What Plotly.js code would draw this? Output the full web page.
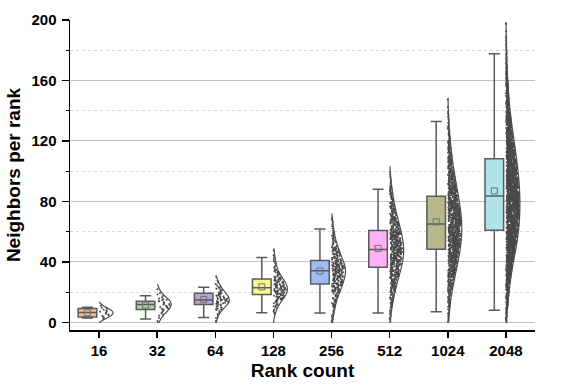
<!DOCTYPE html>
<html>
<head>
<meta charset="utf-8">
<script src="https://cdn.plot.ly/plotly-3.0.1.min.js"></script>
<style>html,body{margin:0;padding:0;background:#fff;}#chart{width:581px;height:388px;}</style>
</head>
<body>
<div id="chart"></div>
<script>
// Categories
var rankCounts = ['16', '32', '64', '128', '256', '512', '1024', '2048'];

// Box statistics
var q1 = [3.6, 8.5, 11.8, 18.4, 25.5, 36.5, 48.4, 61];
var medians = [6.6, 11.9, 14.8, 22.9, 34.2, 48.3, 65.1, 83.6];
var q3 = [9.3, 14, 19.3, 28.8, 40.9, 60.8, 83.5, 108.3];
var lowerWhisker = [3, 2.2, 3.3, 6.4, 6.2, 6.2, 7, 8.1];
var upperWhisker = [10, 17.6, 23.2, 43, 61.8, 88.1, 132.8, 177.7];
var means = [6.5, 11.5, 15.2, 23.5, 34, 49, 66.5, 87];

// Violin extent (max value reached by the half-violin outline)
var violinTop = [13.5, 24.8, 30.7, 48.7, 71.7, 103, 148, 198.5];

// Distribution of neighbors per rank: counts per bin, bins starting at 0
var binWidth = [2, 4, 4, 5, 10, 10, 10, 10];
var counts16 = [0, 3, 4, 5, 3, 1];
var counts32 = [2, 5, 10, 10, 4, 1];
var counts64 = [2, 4, 11, 19, 15, 8, 4, 1];
var counts128 = [0, 6, 12, 28, 34, 25, 12, 6, 4, 1];
var counts256 = [10, 27, 61, 83, 48, 20, 7];
var counts512 = [8, 25, 50, 83, 108, 99, 70, 41, 21, 7];
var counts1024 = [11, 28, 55, 89, 122, 144, 149, 133, 105, 78, 50, 33, 17, 8, 2];
var counts2048 = [14, 34, 60, 95, 138, 190, 216, 224, 224, 207, 181, 147, 112, 78, 52, 34, 21, 12, 7, 2];
var allCounts = [counts16, counts32, counts64, counts128, counts256, counts512, counts1024, counts2048];

var boxColors = ['#f9b98a', '#a2d89c', '#b7a6d3', '#fcf68f', '#9dbcf6', '#feb2f3', '#b6ba8b', '#b0e2ea'];

var VIOLIN_WIDTH = 0.48;   // full width in category units (half side = 0.24)
var BOX_SHIFT = -0.2;

function samplesFrom(counts, w) {
  var out = [];
  counts.forEach(function (c, b) {
    for (var k = 0; k < c; k++) {
      out.push(b * w + (k + 0.5) * w / c);
    }
  });
  return out;
}

// Same kernel density rule as the violin trace (Silverman), used to keep the
// jittered points inside the half-violin outline.
function densities(vals) {
  var n = vals.length;
  var mean = vals.reduce(function (a, b) { return a + b; }, 0) / n;
  var ssd = Math.sqrt(vals.reduce(function (a, b) { return a + (b - mean) * (b - mean); }, 0) / (n - 1));
  var s = vals.slice().sort(function (a, b) { return a - b; });
  var qq = function (p) { var h = (n - 1) * p, lo = Math.floor(h); return s[lo] + (s[Math.min(lo + 1, n - 1)] - s[lo]) * (h - lo); };
  var iqr = qq(0.75) - qq(0.25);
  var bw = 1.059 * Math.min(ssd, iqr / 1.349) * Math.pow(n, -0.2);
  return vals.map(function (v) {
    var d = 0;
    for (var j = 0; j < n; j++) { var z = (v - vals[j]) / bw; d += Math.exp(-0.5 * z * z); }
    return d;
  });
}

function jitterUnit(k, g) {
  var t = Math.sin((k + 1) * 12.9898 + (g + 1) * 78.233) * 43758.5453;
  return t - Math.floor(t);
}

var traces = [];
rankCounts.forEach(function (rc, i) {
  var ys = samplesFrom(allCounts[i], binWidth[i]);
  traces.push({
    type: 'violin',
    x0: i,
    y: ys,
    name: rc,
    side: 'positive',
    width: VIOLIN_WIDTH,
    spanmode: 'manual',
    span: [0, violinTop[i]],
    points: false,
    line: {color: '#4d4d4d', width: 1.2},
    fillcolor: 'rgba(0,0,0,0)',
    box: {visible: false},
    meanline: {visible: false},
    hoverinfo: 'skip',
    showlegend: false
  });
  var dens = densities(ys);
  var dmax = Math.max.apply(null, dens);
  traces.push({
    type: 'scatter',
    mode: 'markers',
    x: ys.map(function (v, k) { return i + (VIOLIN_WIDTH / 2) * (dens[k] / dmax) * (0.05 + 0.88 * jitterUnit(k, i)); }),
    y: ys,
    marker: {size: 2, color: '#4a4a4a'},
    hoverinfo: 'skip',
    showlegend: false
  });
});

rankCounts.forEach(function (rc, i) {
  traces.push({
    type: 'box',
    x: [i + BOX_SHIFT],
    q1: [q1[i]],
    median: [medians[i]],
    q3: [q3[i]],
    lowerfence: [lowerWhisker[i]],
    upperfence: [upperWhisker[i]],
    width: 0.32,
    whiskerwidth: 0.6,
    fillcolor: boxColors[i],
    line: {color: '#5a5a5a', width: 1.5},
    boxpoints: false,
    hoverinfo: 'skip',
    showlegend: false
  });
});

traces.push({
  type: 'scatter',
  mode: 'markers',
  x: rankCounts.map(function (r, i) { return i + BOX_SHIFT; }),
  y: means,
  marker: {symbol: 'square-open', size: 6, color: '#707070', line: {width: 1}},
  hoverinfo: 'skip',
  showlegend: false
});

var layout = {
  width: 581,
  height: 388,
  margin: {l: 70, r: 46, t: 20, b: 58},
  paper_bgcolor: '#ffffff',
  plot_bgcolor: '#ffffff',
  boxmode: 'overlay',
  violinmode: 'overlay',
  showlegend: false,
  font: {family: 'Liberation Sans, Arial, sans-serif', color: '#000'},
  xaxis: {
    range: [-0.5, 7.5],
    tickmode: 'array',
    tickvals: rankCounts.map(function (r, i) { return i; }),
    ticktext: rankCounts,
    showgrid: false,
    zeroline: false,
    showline: true,
    linecolor: '#000',
    linewidth: 1.5,
    ticks: 'outside',
    ticklen: 6,
    tickwidth: 1.5,
    tickcolor: '#000',
    tickfont: {size: 15, family: 'Liberation Sans, Arial, sans-serif', weight: 'bold'},
    title: {text: '<b>Rank count</b>', font: {size: 19}, standoff: 6}
  },
  yaxis: {
    range: [-5, 200],
    tickmode: 'linear',
    tick0: 0,
    dtick: 40,
    showgrid: true,
    gridcolor: '#c0c0c0',
    gridwidth: 1,
    zeroline: false,
    showline: true,
    linecolor: '#000',
    linewidth: 1.5,
    ticks: 'outside',
    ticklen: 7,
    tickwidth: 1.5,
    tickcolor: '#000',
    ticklabelstandoff: 2,
    tickfont: {size: 15, family: 'Liberation Sans, Arial, sans-serif', weight: 'bold'},
    minor: {dtick: 20, showgrid: true, griddash: 'dot', gridcolor: '#d9d9d9', gridwidth: 1, ticks: 'outside', ticklen: 3, tickcolor: '#000', tickwidth: 1},
    title: {text: '<b>Neighbors per rank</b>', font: {size: 19}, standoff: 6}
  }
};

Plotly.newPlot('chart', traces, layout, {displayModeBar: false, staticPlot: true});
</script>
</body>
</html>
